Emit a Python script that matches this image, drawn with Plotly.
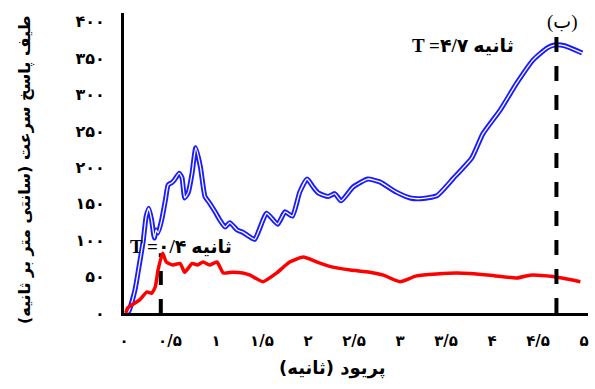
import plotly.graph_objects as go

# Data
blue_x = [0.02, 0.05, 0.12, 0.17, 0.21, 0.24, 0.27, 0.30, 0.33, 0.35, 0.37, 0.41, 0.45, 0.48,
          0.52, 0.55, 0.60, 0.63, 0.66, 0.70, 0.74, 0.78, 0.83, 0.88, 0.93, 0.99, 1.04, 1.10,
          1.15, 1.23, 1.29, 1.35, 1.42, 1.55, 1.67, 1.75, 1.83, 1.91, 1.99, 2.05, 2.11, 2.22,
          2.29, 2.36, 2.49, 2.65, 2.78, 2.96, 3.11, 3.22, 3.40, 3.58, 3.78, 3.90, 4.09, 4.27,
          4.45, 4.60, 4.68, 4.79, 4.98]
blue_y = [0, 2, 32, 69, 100, 132, 144, 128, 103, 114, 110, 128, 155, 176,
          179, 183, 192, 186, 158, 166, 192, 227, 201, 160, 151, 139, 128, 118,
          124, 114, 111, 106, 101, 137, 122, 139, 133, 166, 184, 174, 165, 160,
          164, 154, 173, 184, 180, 166, 158, 157, 161, 185, 213, 246, 279, 316,
          348, 364, 368, 367, 357]

red_x = [0.02, 0.04, 0.17, 0.25, 0.30, 0.34, 0.37, 0.42, 0.46, 0.53, 0.61, 0.66, 0.74, 0.80,
         0.86, 0.93, 1.01, 1.08, 1.18, 1.29, 1.37, 1.51, 1.66, 1.80, 1.95, 2.10, 2.27, 2.46,
         2.67, 2.82, 3.00, 3.18, 3.62, 3.98, 4.27, 4.41, 4.66, 4.96]
red_y = [0, 7, 18, 29, 27, 36, 59, 82, 70, 66, 68, 56, 68, 66,
         70, 66, 70, 55, 56, 55, 52, 43, 55, 70, 77, 70, 63, 59,
         56, 52, 43, 51, 55, 52, 48, 52, 50, 43]

marker1_x = [0.4, 0.4]
marker1_y = [0, 82]
marker2_x = [4.7, 4.7]
marker2_y = [0, 385]

x_tickvals = [0, 0.5, 1, 1.5, 2, 2.5, 3, 3.5, 4, 4.5, 5]
x_ticktext = ["۰", "۰/۵", "۱", "۱/۵", "۲", "۲/۵", "۳", "۳/۵", "۴", "۴/۵", "۵"]
y_tickvals = [0, 50, 100, 150, 200, 250, 300, 350, 400]
y_ticktext = ["۰", "۵۰", "۱۰۰", "۱۵۰", "۲۰۰", "۲۵۰", "۳۰۰", "۳۵۰", "۴۰۰"]

FONT = "Liberation Serif, DejaVu Sans"
AR = "DejaVu Sans"

fig = go.Figure()
fig.add_trace(go.Scatter(x=blue_x, y=blue_y, mode="lines",
                         line=dict(color="#1a1aff", width=5, shape="spline", smoothing=0.5),
                         showlegend=False, hoverinfo="skip"))
fig.add_trace(go.Scatter(x=blue_x, y=blue_y, mode="lines",
                         line=dict(color="white", width=1.3, shape="spline", smoothing=0.5),
                         showlegend=False, hoverinfo="skip"))
fig.add_trace(go.Scatter(x=marker1_x, y=marker1_y, mode="lines",
                         line=dict(color="black", width=4, dash="14px,14px"),
                         showlegend=False, hoverinfo="skip"))
fig.add_trace(go.Scatter(x=red_x, y=red_y, mode="lines",
                         line=dict(color="#ff0000", width=3.5, shape="spline", smoothing=0.5),
                         showlegend=False, hoverinfo="skip"))
fig.add_trace(go.Scatter(x=marker2_x, y=marker2_y, mode="lines",
                         line=dict(color="black", width=4, dash="15px,14px"),
                         showlegend=False, hoverinfo="skip"))

fig.update_layout(
    width=595, height=389,
    margin=dict(l=124, r=7, t=13, b=76),
    paper_bgcolor="white", plot_bgcolor="white",
    font=dict(family=FONT, color="black"),
    xaxis=dict(range=[0, 5.043], tickvals=x_tickvals, ticktext=x_ticktext,
               showgrid=False, zeroline=False, showline=True, linecolor="black",
               linewidth=3, ticks="", ticklabelstandoff=12, ticklabeloverflow="allow",
               tickfont=dict(family=AR, size=15, weight="bold", color="black")),
    yaxis=dict(range=[0, 412], tickvals=y_tickvals, ticktext=y_ticktext,
               showgrid=False, zeroline=False, showline=True, linecolor="black",
               linewidth=3, ticks="", ticklabelstandoff=13, ticklabeloverflow="allow",
               tickfont=dict(family=AR, size=16, weight="bold", color="black")),
    annotations=[
        dict(text="طیف پاسخ سرعت (سانتی متر بر ثانیه)", xref="paper", yref="paper",
             x=-0.213, y=0.477, textangle=-90, showarrow=False,
             font=dict(family=AR, size=16, weight="bold", color="black"),
             xanchor="center", yanchor="middle"),
        dict(text="پریود (ثانیه)", xref="paper", yref="paper",
             x=0.45, y=-0.183, showarrow=False,
             font=dict(family=AR, size=18, weight="bold", color="black"),
             xanchor="center", yanchor="middle"),
        dict(text="T =۰/۴ ثانیه", xref="x", yref="y", x=0.62, y=91,
             showarrow=False, xanchor="center", yanchor="middle",
             font=dict(family=FONT, size=19, weight="bold", color="black")),
        dict(text="T =۴/۷ ثانیه", xref="x", yref="y", x=3.68, y=368,
             showarrow=False, xanchor="center", yanchor="middle",
             font=dict(family=FONT, size=19, weight="bold", color="black")),
        dict(text="(ب)", xref="x", yref="y", x=4.77, y=400,
             showarrow=False, xanchor="center", yanchor="middle",
             font=dict(family=FONT, size=19, color="black")),
    ],
)

fig.write_html("out.html", config={"displayModeBar": False},
               post_script="document.body.style.margin='0';document.body.style.padding='0';")
